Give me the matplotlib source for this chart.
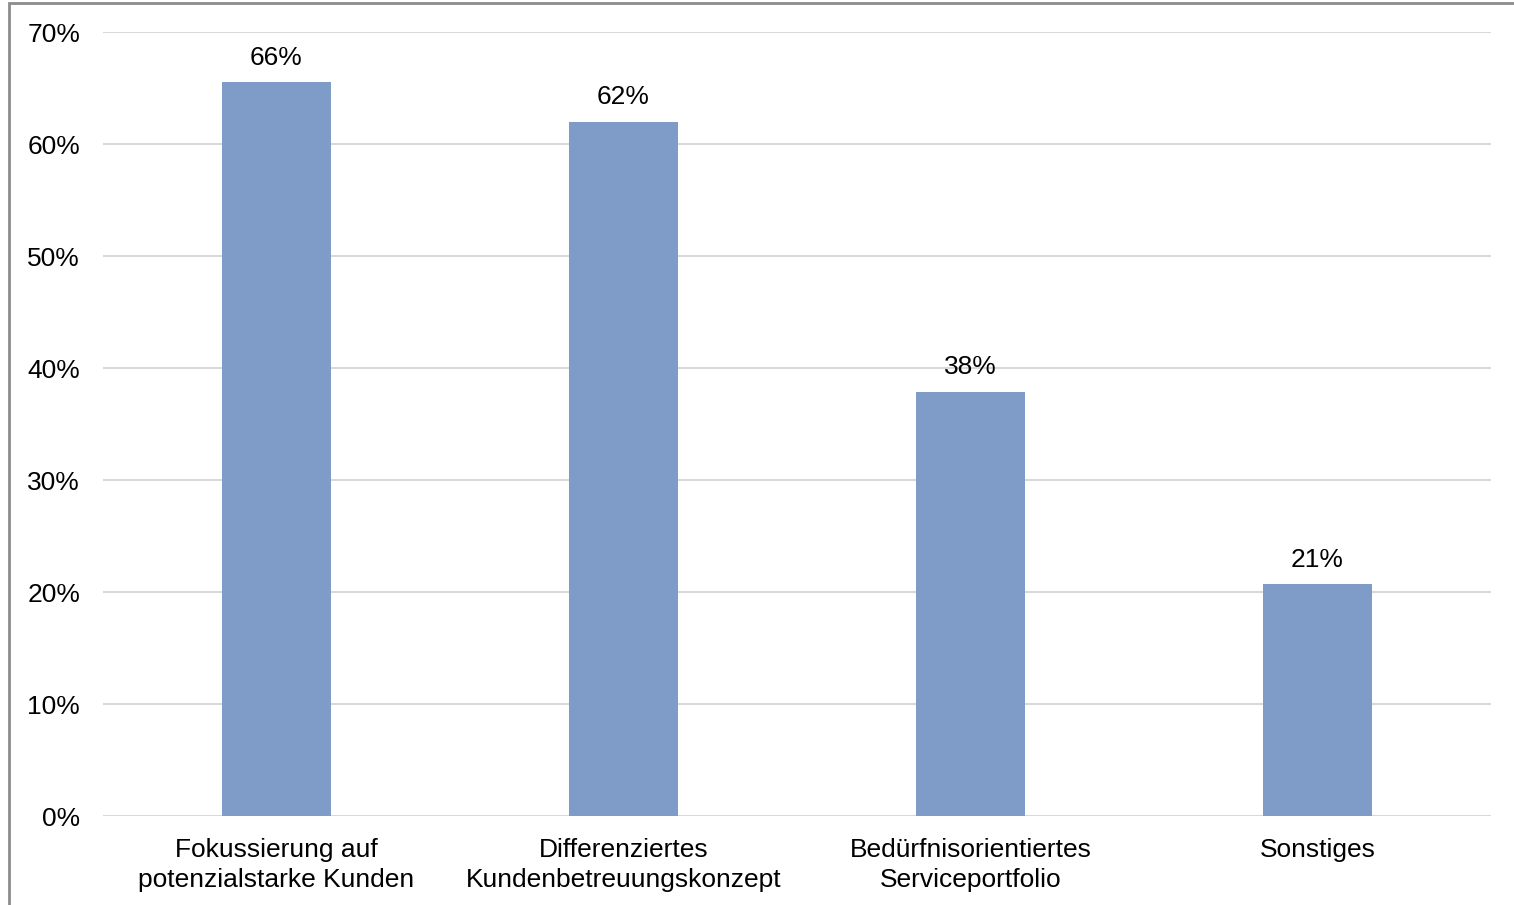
import matplotlib.pyplot as plt
import matplotlib.patches as mpatches
from matplotlib.ticker import PercentFormatter

plt.rcParams['font.family'] = ['Liberation Sans', 'DejaVu Sans']

categories = ['Fokussierung auf\npotenzialstarke Kunden',
              'Differenziertes\nKundenbetreuungskonzept',
              'Bedürfnisorientiertes\nServiceportfolio',
              'Sonstiges']
values = [65.5, 62.0, 37.9, 20.7]
labels = ['66%', '62%', '38%', '21%']

fig = plt.figure(figsize=(15.14, 9.05), dpi=100)
ax = fig.add_axes([0.068, 0.0983, 0.9168, 0.8663])

x = range(len(categories))
bars = ax.bar(x, values, width=0.314, color='#7F9CC8', zorder=3)
for b, lab in zip(bars, labels):
    ax.annotate(lab, (b.get_x() + b.get_width() / 2, b.get_height()),
                xytext=(0, 9), textcoords='offset points',
                ha='center', va='bottom', fontsize=19, color='black')

ax.set_xlim(-0.5, 3.5)
ax.set_ylim(0, 70)
ax.set_yticks(range(0, 71, 10))
ax.yaxis.set_major_formatter(PercentFormatter(decimals=0))
ax.set_xticks(list(x))
ax.set_xticklabels(categories, fontsize=19, linespacing=1.3)
ax.tick_params(axis='y', labelsize=19, length=0, pad=16.5)
ax.tick_params(axis='x', length=0, pad=16)
ax.grid(axis='y', color='#D9D9D9', linewidth=1.5, zorder=0)
for s in ax.spines.values():
    s.set_visible(False)

# outer frame (only left and top visible in the picture)
fig.patches.append(mpatches.Rectangle((9 / 1514, -0.1), 1.2, 1 - 3 / 905 + 0.1,
                                      transform=fig.transFigure, fill=False,
                                      edgecolor='#8C8C8C', linewidth=2))

fig.savefig('out.png', dpi=100)
